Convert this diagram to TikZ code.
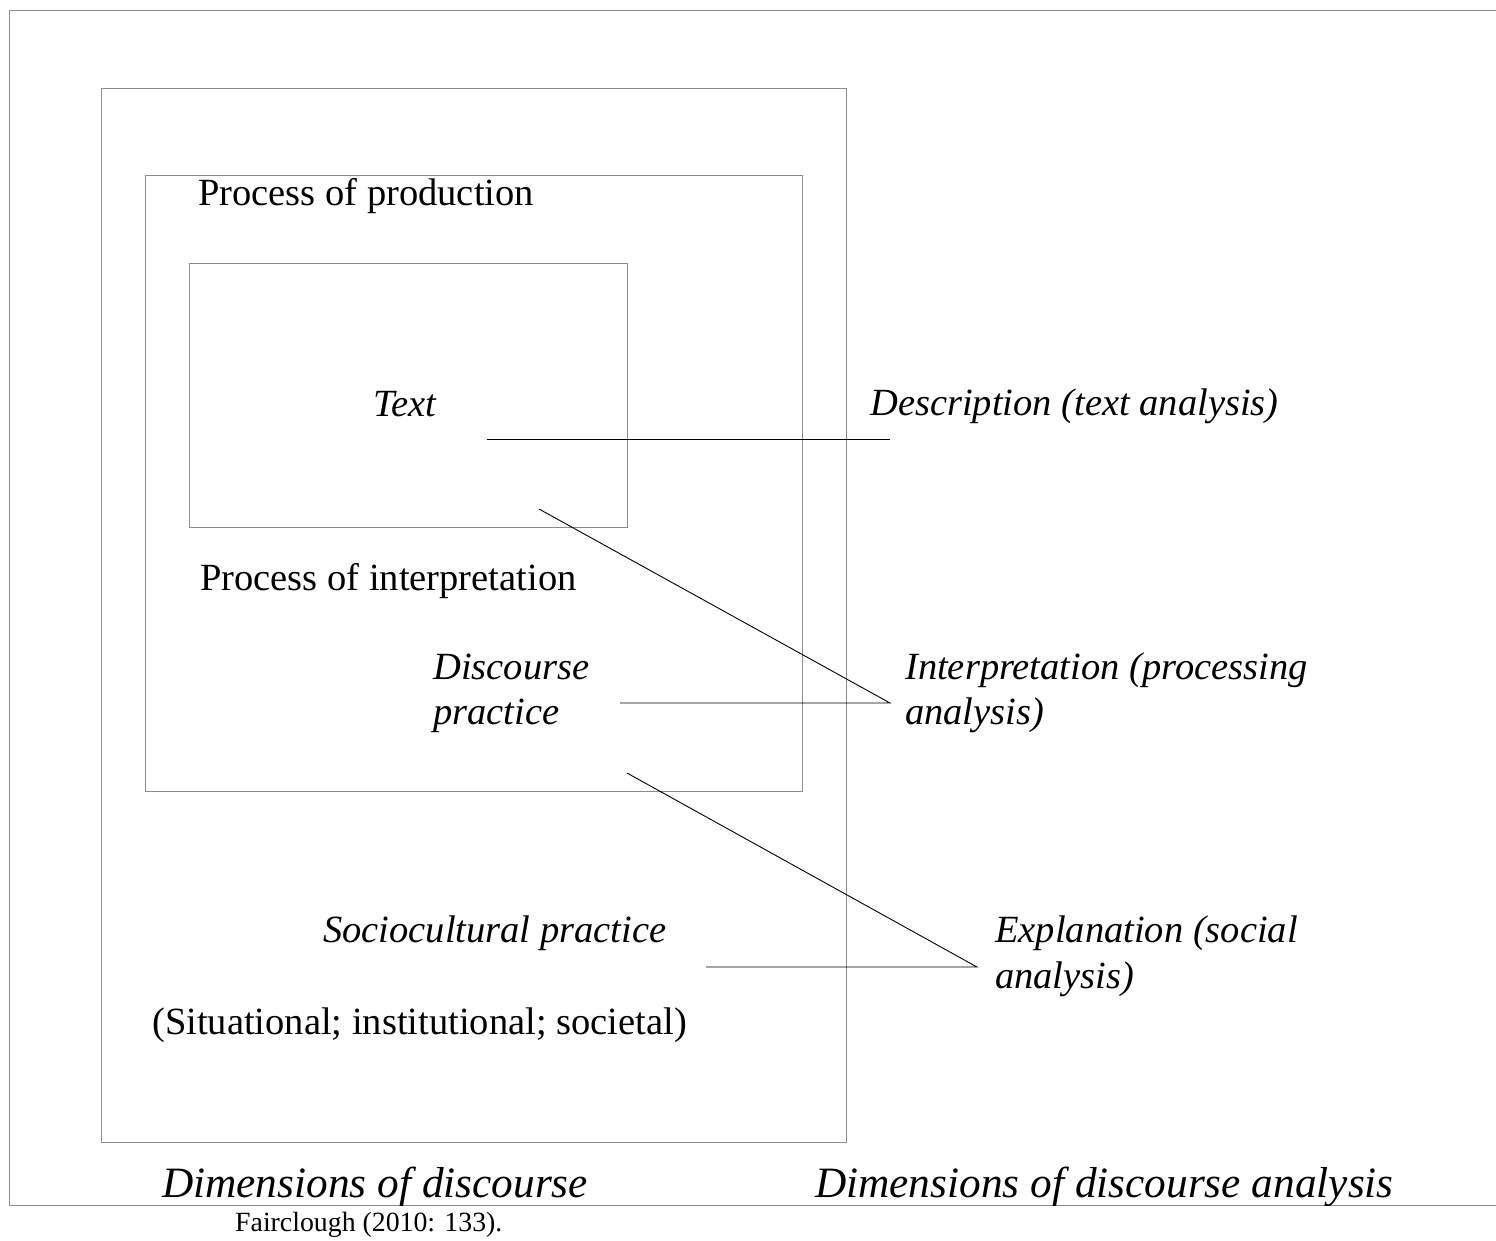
\documentclass[tikz,border=0pt]{standalone}
\usepackage{fontspec}
\setmainfont{Liberation Serif}
\begin{document}
\begin{tikzpicture}[x=1pt,y=-1pt,
  frame/.style={draw=black!45,line width=1pt},
  conn/.style={draw=black,line width=0.9pt},
  lbl/.style={inner sep=0pt,anchor=base west,font=\fontsize{38.5}{46}\selectfont},
  ilbl/.style={lbl,font=\fontsize{38.5}{46}\selectfont\itshape},
  dimlbl/.style={inner sep=0pt,anchor=base west,font=\fontsize{43.3}{50}\selectfont\itshape},
  srclbl/.style={inner sep=0pt,anchor=base west,font=\fontsize{27.8}{32}\selectfont}]
\useasboundingbox (0,0) rectangle (1496,1240);
% outer open frame
\draw[frame] (1496,10.5) -- (9.5,10.5) -- (9.5,1205) -- (1496,1205);
% nested boxes
\draw[frame] (101,88) rectangle (846,1142);
\draw[frame] (145,175) rectangle (802,791);
\draw[frame] (189,263) rectangle (627,527);
% labels inside
\node[lbl]  (prod)   at (198,205)  {Process of production};
\node[ilbl] (text)   at (373,416)  {Text};
\node[lbl]  (interp) at (200,590)  {Process of interpretation};
\node[ilbl] (disc1)  at (433,679)  {Discourse};
\node[ilbl] (disc2)  at (433,724)  {practice};
\node[ilbl] (socio)  at (323,942)  {Sociocultural practice};
\node[lbl]  (situ)   at (152,1034) {(Situational; institutional; societal)};
% labels right
\node[ilbl] (descr)  at (870,415)  {Description (text analysis)};
\node[ilbl] (inta)   at (905,679)  {Interpretation (processing};
\node[ilbl] (intb)   at (905,724)  {analysis)};
\node[ilbl] (expa)   at (995,942)  {Explanation (social};
\node[ilbl] (expb)   at (995,988)  {analysis)};
% connector end points
\coordinate (d1) at (487,439);
\coordinate (d2) at (890,439);
\coordinate (i1) at (539,509);
\coordinate (i2) at (890,703);
\coordinate (i3) at (620,703);
\coordinate (e1) at (627,773);
\coordinate (e2) at (977,967);
\coordinate (e3) at (706,967);
\draw[conn] (d1) -- (d2);
\draw[conn] (i1) -- (i2) -- (i3);
\draw[conn] (e1) -- (e2) -- (e3);
% bottom titles (clipped at the frame line)
\begin{scope}
\clip (0,0) rectangle (1496,1205);
\node[dimlbl] (dimd)  at (162,1197) {Dimensions of discourse};
\node[dimlbl] (dimda) at (815,1197) {Dimensions of discourse analysis};
\end{scope}
\node[srclbl] (src) at (235,1231) {Fairclough (2010: 133).};
\end{tikzpicture}
\end{document}
